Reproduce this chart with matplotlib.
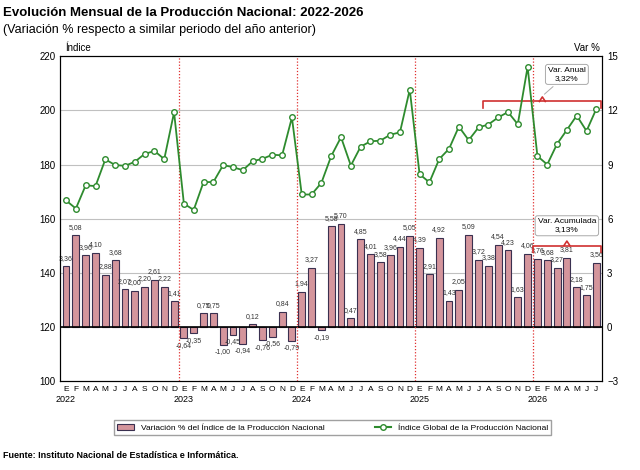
import matplotlib
matplotlib.use("Agg")
import matplotlib.pyplot as plt
from matplotlib.lines import Line2D
from matplotlib.patches import Patch
import numpy as np

plt.rcParams['font.family'] = ['Liberation Sans', 'DejaVu Sans']

months = ["E","F","M","A","M","J","J","A","S","O","N","D"]*4 + ["E","F","M","A","M","J","J"]
years = ["2022","2023","2024","2025","2026"]
var_pct = [3.36,5.08,3.96,4.10,2.88,3.68,2.07,2.00,2.20,2.61,2.22,1.41,
           -0.64,-0.35,0.75,0.75,-1.00,-0.45,-0.94,0.12,-0.76,-0.56,0.84,-0.79,
           1.94,3.27,-0.19,5.58,5.70,0.47,4.85,4.01,3.58,3.96,4.44,5.05,
           4.39,2.91,4.92,1.43,2.05,5.09,3.72,3.38,4.54,4.23,1.63,4.06,
           3.76,3.68,3.27,3.81,2.18,1.75,3.56]
indice = [166.7,163.7,172.3,172.0,181.9,179.8,179.5,181.0,183.9,185.0,182.0,199.3,
          165.5,163.2,173.5,173.5,179.8,179.0,177.9,181.2,182.1,183.6,183.4,197.4,
          168.9,168.9,173.2,183.1,190.1,179.6,186.6,188.6,188.8,191.0,191.9,207.7,
          176.4,173.4,182.0,185.8,194.0,189.0,193.7,194.8,197.4,199.4,194.9,216.1,
          183.1,180.0,187.6,192.8,198.1,192.4,200.6]

n = len(var_pct)
x = np.arange(n)
fig = plt.figure(figsize=(6.4, 4.7), dpi=100)
ax = fig.add_axes([0.094, 0.19, 0.847, 0.69])
ax2 = ax.twinx()
ax.set_zorder(ax2.get_zorder()+1); ax.patch.set_visible(False)

ax2.bar(x, var_pct, width=0.7, color='#d4959c', edgecolor='#3a3050', linewidth=0.8, zorder=3)
ax2.axhline(0, color='black', lw=1.2, zorder=4)
for xi, v in zip(x, var_pct):
    lab = f"{v:.2f}".replace('.', ',')
    if v >= 0:
        ax2.text(xi, v+0.25, lab, ha='center', va='bottom', fontsize=5, color='#333', zorder=5)
    else:
        ax2.text(xi, v-0.2, lab, ha='center', va='top', fontsize=5, color='#333', zorder=5)
ax2.set_ylim(-3, 15)
ax2.set_yticks(range(-3, 16, 3))
ax2.tick_params(labelsize=7, length=0)

ax.plot(x, indice, color='#2e8b2e', lw=1.3, marker='o', ms=4, mfc='white', mec='#2e8b2e', mew=1, zorder=6)
ax.set_ylim(100, 220)
ax.set_yticks(range(100, 221, 20))
ax.set_xlim(-0.6, n-0.4)
ax.tick_params(labelsize=7, length=0)
ax.set_xticks(x)
ax.set_xticklabels(months, fontsize=6)
for yv in range(120, 220, 20):
    ax2.axhline((yv-120)*3/20, color='#c0c0c0', lw=0.8, zorder=1)
for b in [11.5, 23.5, 35.5, 47.5]:
    ax.axvline(b, color='#e03030', lw=0.9, ls=(0, (1, 1.5)), zorder=2)
for i, yr in enumerate(years):
    ax.text(12*i, -0.045, yr, transform=ax.get_xaxis_transform(), ha='center', va='top', fontsize=6.5)
ax.text(0.01, 1.01, "Índice", transform=ax.transAxes, fontsize=7, ha='left', va='bottom')
ax.text(0.995, 1.01, "Var %", transform=ax.transAxes, fontsize=7, ha='right', va='bottom')

def bracket(x0, x1, y, tip):
    ax2.plot([x0, x0, x1, x1], [y-0.35, y, y, y-0.35], color='#d03030', lw=1.2, zorder=7)
    ax2.plot([tip-0.3, tip, tip+0.3], [y, y+0.25, y], color='#d03030', lw=1.2, zorder=7)
bracket(42.5, 54.5, 12.5, 48.5)
bracket(47.6, 54.5, 4.5, 51)
ax2.annotate("Var. Anual\n3,32%", xy=(48.5, 12.8), xytext=(51, 14.0), fontsize=6, ha='center', va='center',
             bbox=dict(boxstyle='round,pad=0.3', fc='white', ec='#aaa', lw=0.7),
             arrowprops=dict(arrowstyle='-', color='#aaa', lw=0.7), zorder=8)
ax2.text(51, 5.6, "Var. Acumulada\n3,13%", fontsize=6, ha='center', va='center',
         bbox=dict(boxstyle='round,pad=0.3', fc='white', ec='#aaa', lw=0.7), zorder=8)

fig.text(0.005, 0.985, "Evolución Mensual de la Producción Nacional: 2022-2026", fontsize=9.5, weight='bold', va='top')
fig.text(0.005, 0.95, "(Variación % respecto a similar periodo del año anterior)", fontsize=9, va='top')
handles = [Patch(fc='#d4959c', ec='#3a3050', lw=0.8), Line2D([], [], color='#2e8b2e', marker='o', mfc='white', ms=4)]
fig.legend(handles, ["Variación % del Índice de la Producción Nacional", "Índice Global de la Producción Nacional"],
           loc='center', bbox_to_anchor=(0.52, 0.09), ncol=2, fontsize=6, frameon=True, fancybox=False,
           edgecolor='#888', columnspacing=6)
fig.text(0.005, 0.04, "Fuente: Instituto Nacional de Estadística e Informática.", fontsize=6.5, weight='bold', va='top')
fig.savefig("out.png", dpi=100)
